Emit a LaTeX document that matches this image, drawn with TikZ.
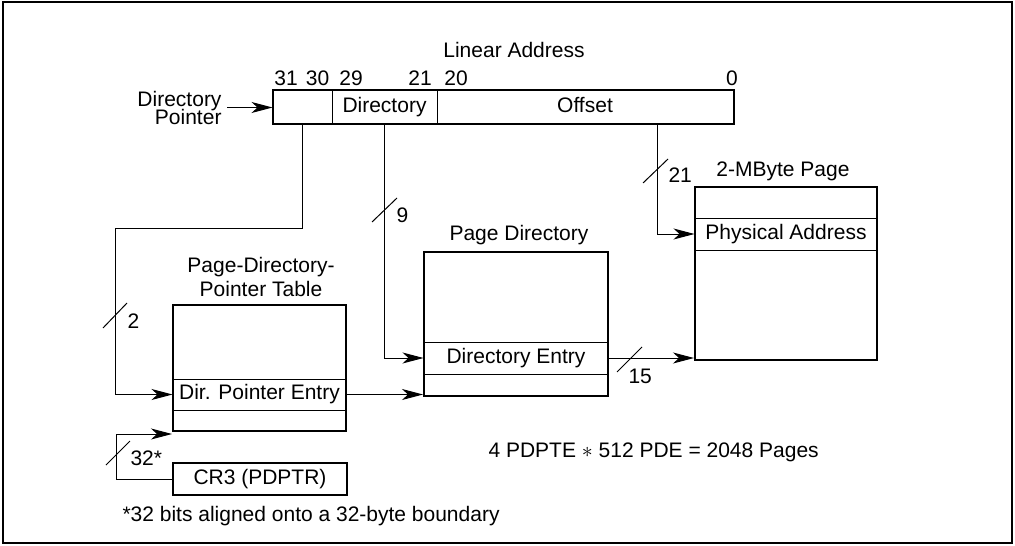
\documentclass[tikz,border=0pt]{standalone}
\usepackage{fontspec}
\setmainfont{Liberation Sans}
\usetikzlibrary{arrows.meta}

\tikzset{every picture/.style={line width=0.5pt}}
\tikzset{every node/.style={font=\fontsize{10.5}{12}\selectfont},
  arr/.style={-{Stealth[length=10.5pt,width=5.5pt,inset=3pt]}},
  outerbox/.style={draw,line width=1pt,inner sep=0pt},
  rowbox/.style={draw,line width=0.5pt,inner sep=0pt,text height=7.6pt,text depth=2.2pt}}

\begin{document}
\begin{tikzpicture}[x=0.5pt,y=0.5pt,yscale=-1,xscale=1]
\useasboundingbox (0,0) rectangle (1015,545);

%Shape: Frame
\draw [line width=1.3pt]  (3,2) rectangle (1012,543) ;

%Shape: Linear address fields
\draw (302.5,107.5) node (pfield) [rowbox,minimum width=29.5pt,minimum height=16.5pt] {};
\draw (384.5,107.5) node (dirfield) [rowbox,minimum width=52.5pt,minimum height=16.5pt] {Directory};
\draw (585,107.5) node (offfield) [rowbox,minimum width=148pt,minimum height=16.5pt] {Offset};
\draw [line width=1pt]  (pfield.north west) rectangle (offfield.south east) ;

% Text Node
\draw (514,50) node (linaddr) [inner sep=0.75pt] {Linear Address};
% Text Node
\draw (286,78) node (bitA) [inner sep=0.75pt] {31};
\draw (317.5,78) node (bitB) [inner sep=0.75pt] {30};
\draw (351,78) node (bitC) [inner sep=0.75pt] {29};
\draw (420,78) node (bitD) [inner sep=0.75pt] {21};
\draw (456,78) node (bitE) [inner sep=0.75pt] {20};
\draw (732,78) node (bitF) [inner sep=0.75pt] {0};
% Text Node
\draw (227,107.5) node (dptr) [anchor=east][inner xsep=2.5pt,inner ysep=0.75pt][align=right,font={\fontsize{10.5}{9}\selectfont\lineskiplimit=-20pt}] {Directory\\Pointer};

%Shape: Page-Directory-Pointer Table
\draw (259.5,368) node (pdpt) [outerbox,minimum width=86.5pt,minimum height=63pt] {};
\draw (259.5,394.5) node (pdpte) [rowbox,minimum width=86.5pt,minimum height=15.5pt] {Dir. Pointer Entry};
\draw (261,277) node (pdpttitle) [inner sep=0.75pt][align=center] {Page-Directory-\\Pointer Table};

%Shape: Page Directory
\draw (516,324) node (pd) [outerbox,minimum width=92pt,minimum height=72pt] {};
\draw (516,358) node (pde) [rowbox,minimum width=92pt,minimum height=16pt] {Directory Entry};
\draw (519,235) node (pdtitle) [inner sep=0.75pt] {Page Directory};

%Shape: 2-MByte Page
\draw (786,273.5) node (page) [outerbox,minimum width=91pt,minimum height=86.5pt] {};
\draw (786,234) node (phys) [rowbox,minimum width=91pt,minimum height=16pt] {Physical Address};
\draw (783,171) node (pagetitle) [inner sep=0.75pt] {2-MByte Page};

%Shape: CR3
\draw (260,479) node (cr3) [outerbox,minimum width=87pt,minimum height=16pt,text height=7.6pt,text depth=2.2pt] {CR3 (PDPTR)};

%Straight Lines
\draw [arr]  (dptr.east) -- (pfield.west) ;
\draw [arr]  (pfield.south) |- (115,228) |- (pdpte.west) ;
\draw [arr]  (dirfield.south) |- (pde.west) ;
\draw [arr]  ([xshift=36pt]offfield.south) |- (phys.west) ;
\draw [arr]  (pdpte.east) -- (pdpte.east -| pd.west) ;
\draw [arr]  (pde.east) -- (pde.east -| page.west) ;
\draw [arr]  (cr3.west) -- ++(-56,0) |- ([yshift=1pt]pdpt.south west) ;

%Straight Lines: bus width marks
\draw   (103,328) -- (127,303) ;
\draw   (372,222) -- (397,198) ;
\draw   (643,183) -- (668,159) ;
\draw   (617,372) -- (642,347) ;
\draw   (106,465) -- (130,441) ;

% Text Node
\draw (127,328) node (wtwo) [anchor=base west][inner sep=0pt] {2};
\draw (396,222) node (wnine) [anchor=base west][inner sep=0pt] {9};
\draw (668,183) node (wtwentyone) [anchor=base west][inner sep=0pt] {21};
\draw (628,383) node (wfifteen) [anchor=base west][inner sep=0pt] {15};
\draw (130,465) node (wthirtytwo) [anchor=base west][inner sep=0pt] {32*};

% Text Node
\draw (488,457) node (pagecount) [anchor=base west][inner sep=0pt] {4 PDPTE $\ast$ 512 PDE = 2048 Pages};
% Text Node
\draw (122,521) node (footnote) [anchor=base west][inner sep=0pt] {*32 bits aligned onto a 32-byte boundary};

\end{tikzpicture}
\end{document}
